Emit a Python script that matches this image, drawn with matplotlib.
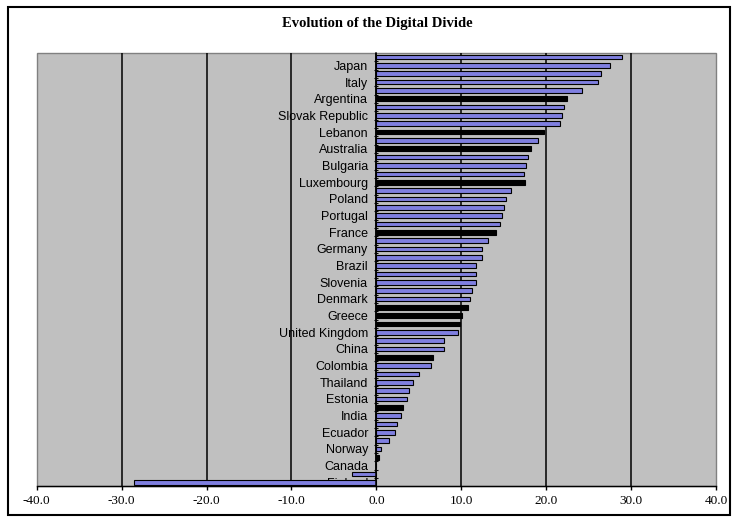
import matplotlib
matplotlib.use("Agg")
import matplotlib.pyplot as plt
from matplotlib.patches import Rectangle
from matplotlib.ticker import FixedLocator

# values for every row, listed from the top of the chart down
values = [28.9, 27.55, 26.4, 26.1, 24.2, 22.4, 22.1, 21.9, 21.6, 19.8,
          19.0, 18.2, 17.9, 17.6, 17.4, 17.5, 15.8, 15.3, 15.0, 14.8,
          14.6, 14.1, 13.2, 12.45, 12.45, 11.7, 11.7, 11.7, 11.3, 11.0,
          10.8, 10.1, 9.9, 9.6, 8.0, 8.0, 6.7, 6.45, 5.0, 4.3,
          3.8, 3.6, 3.1, 2.9, 2.45, 2.2, 1.5, 0.5, 0.3, 0.0,
          -2.85, -28.5]

# only every other row carries a label (rows 2, 4, ... from the top)
countries = ["Japan", "Italy", "Argentina", "Slovak Republic", "Lebanon",
             "Australia", "Bulgaria", "Luxembourg", "Poland", "Portugal",
             "France", "Germany", "Brazil", "Slovenia", "Denmark", "Greece",
             "United Kingdom", "China", "Colombia", "Thailand", "Estonia",
             "India", "Ecuador", "Norway", "Canada", "Finland"]

# rows (1-based, from the top) drawn as dark bars
dark_rows = [6, 10, 12, 16, 22, 31, 32, 33, 37, 43, 49]

x_ticks = [-40, -30, -20, -10, 0, 10, 20, 30, 40]

fig = plt.figure(figsize=(7.36, 5.17), dpi=100)
fig.patch.set_facecolor("white")
fig.patches.append(Rectangle((0.0109, 0.0039), 0.981, 0.9826,
                             transform=fig.transFigure, fill=False,
                             edgecolor="black", linewidth=1.5))

ax = fig.add_axes([0.0499, 0.059, 0.9229, 0.8386])
ax.set_facecolor("#c0c0c0")
ax.patch.set_edgecolor("#808080")
ax.patch.set_linewidth(1.0)
ax.set_axisbelow(True)

rows = list(range(len(values)))
colors = ["black" if (i + 1) in dark_rows else "#7f7fe0" for i in rows]
ax.barh(rows, values, height=0.56, color=colors, edgecolor="black",
        linewidth=0.8, zorder=2)

ax.set_ylim(len(values) - 0.5, -0.5)
ax.set_xlim(-40, 40)

# x axis
ax.set_xticks(x_ticks)
ax.set_xticklabels(["%.1f" % t for t in x_ticks])
ax.tick_params(axis="x", direction="out", length=3, width=1,
               color="black", pad=3, labelsize=9.5,
               labelfontfamily="Liberation Serif")
ax.grid(axis="x", color="black", linewidth=1.1)
for gl in (ax.get_xgridlines()[0], ax.get_xgridlines()[-1]):
    gl.set_visible(False)

# y axis sits on zero
ax.set_yticks(rows[1::2])
ax.set_yticklabels(countries)
ax.yaxis.set_minor_locator(FixedLocator([r + 0.5 for r in rows[:-1]]))
ax.tick_params(axis="y", which="major", length=0, pad=6, labelsize=9,
               labelfontfamily="Liberation Sans")
ax.tick_params(axis="y", which="minor", direction="inout", length=3,
               width=0.8, color="black")
ax.spines["left"].set_position(("data", 0))
ax.spines["left"].set_color("black")
ax.spines["left"].set_linewidth(1.1)
ax.spines["bottom"].set_color("black")
ax.spines["bottom"].set_linewidth(1.0)
for side in ("top", "right"):
    ax.spines[side].set_visible(False)

fig.text(0.512, 0.954, "Evolution of the Digital Divide",
         ha="center", va="center", fontfamily="Liberation Serif",
         fontweight="bold", fontsize=10.5)

fig.savefig("out.png", dpi=100)
